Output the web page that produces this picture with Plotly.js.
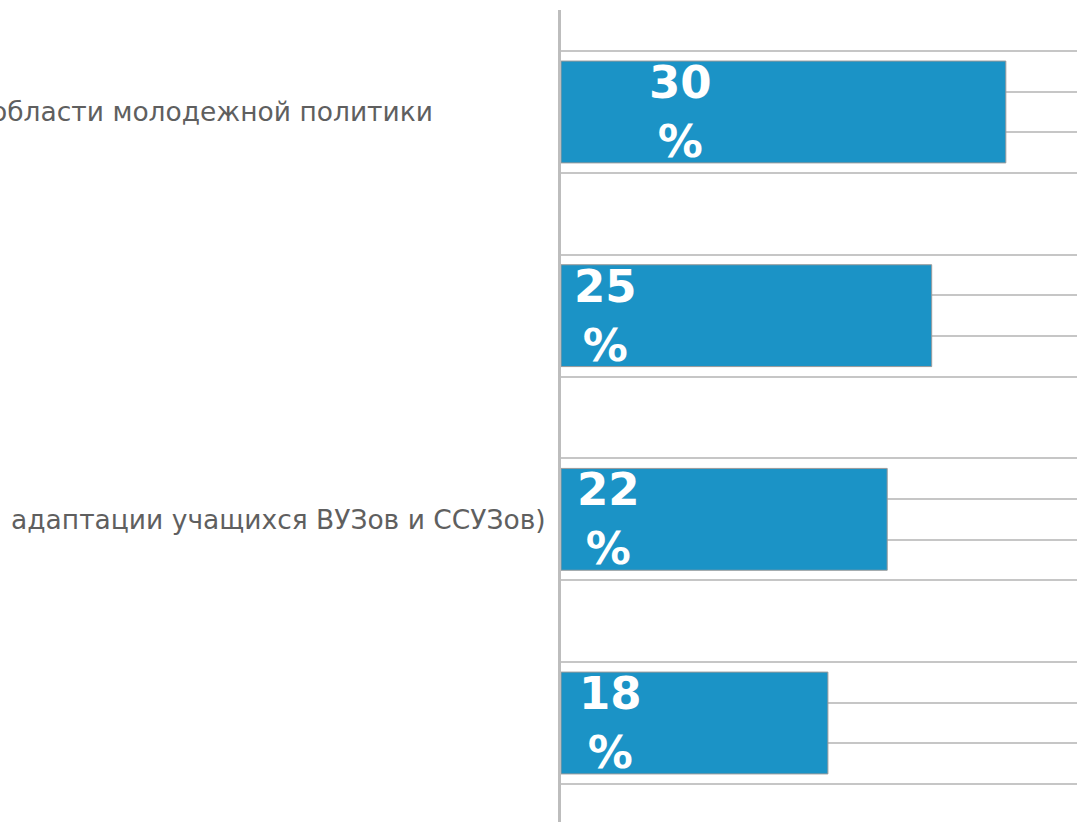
<!DOCTYPE html>
<html>
<head>
<meta charset="utf-8">
<script src="https://cdn.plot.ly/plotly-3.0.1.min.js"></script>
<style>html,body{margin:0;padding:0;background:#fff;overflow:hidden}#chart{width:1077px;height:822px}</style>
</head>
<body>
<div id="chart"></div>
<script>
// Data
const categories = ["области молодежной политики", "", "адаптации учащихся ВУЗов и ССУЗов)", ""];
const values = [30, 25, 22, 18];
const valueUnit = "%";

// styling constants
const barColor = "#1b93c6";
const gridColor = "#c6c6c6";
const labelShift = [86, 11, 14, 16];        // horizontal offset of value labels (px)
const catLabelX = [-0.244, null, -0.026, null]; // paper x of category label right edge

const idx = categories.map((c, i) => i);
const gridVals = [];
idx.forEach(i => { [-0.3, -0.1, 0.1, 0.3].forEach(d => gridVals.push(i + d)); });

const trace = {
  type: "bar",
  orientation: "h",
  x: values,
  y: idx,
  width: 0.5,
  marker: { color: barColor, line: { color: "#9a9a9a", width: 1 } },
  hoverinfo: "none",
  showlegend: false
};

const annotations = [];
values.forEach((v, i) => {
  annotations.push({
    x: 0, y: i, xref: "x", yref: "y",
    xanchor: "left", yanchor: "middle", xshift: labelShift[i],
    text: v + "<br>" + valueUnit, showarrow: false, align: "center",
    font: { family: "DejaVu Sans", size: 45, color: "#ffffff", weight: "bold" }
  });
});
categories.forEach((c, i) => {
  if (!c) return;
  annotations.push({
    x: catLabelX[i], y: i, xref: "paper", yref: "y",
    xanchor: "right", yanchor: "middle",
    text: c, showarrow: false,
    font: { family: "DejaVu Sans", size: 26.5, color: "#5f5f5f" }
  });
});

const layout = {
  width: 1077, height: 822,
  margin: { l: 561, r: 0, t: 10, b: 0, pad: 0 },
  paper_bgcolor: "#ffffff", plot_bgcolor: "#ffffff",
  xaxis: { range: [0, 34.8], showgrid: false, zeroline: false, showticklabels: false, showline: false, fixedrange: true },
  yaxis: {
    range: [3.486, -0.5007], tickmode: "array", tickvals: gridVals,
    showticklabels: false, ticks: "", showgrid: true, gridcolor: gridColor, gridwidth: 2,
    zeroline: false, showline: true, linecolor: "#bdbdbd", linewidth: 3, fixedrange: true
  },
  annotations: annotations,
  bargap: 0
};

Plotly.newPlot("chart", [trace], layout, { displayModeBar: false, staticPlot: true });
</script>
</body>
</html>
